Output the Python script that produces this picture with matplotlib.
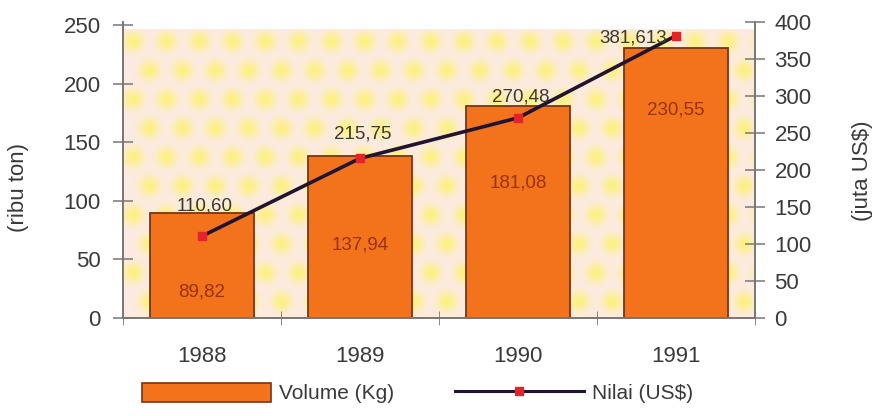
import numpy as np
from matplotlib import pyplot as plt
from matplotlib.patches import Patch
from matplotlib.lines import Line2D

years = ['1988', '1989', '1990', '1991']
volume = [89.82, 137.94, 181.08, 230.55]          # ribu ton
nilai = [110.60, 215.75, 270.48, 381.613]          # juta US$
volume_labels = ['89,82', '137,94', '181,08', '230,55']
nilai_labels = ['110,60', '215,75', '270,48', '381,613']

plt.rcParams['font.family'] = ['Liberation Sans', 'DejaVu Sans']
text_col = '#3a3a3a'
bar_col = '#f2731c'
bar_edge = '#7a3410'
line_col = '#22142e'
mark_col = '#e0262a'

fig = plt.figure(figsize=(8.78, 4.16), dpi=100)
ax = fig.add_axes([0.140, 0.2356, 0.720, 0.7115])
ax2 = ax.twinx()

# dotted pastel backdrop behind the bars
h, w = 290, 632
yy, xx = np.mgrid[0:h, 0:w]
img = np.ones((h, w, 3)) * np.array([0.99, 0.92, 0.90])
dots = np.zeros((h, w))
for r in range(11):
    cy = 12 + r * 29
    shift = 0 if r % 2 == 0 else 16
    for c in range(21):
        cx = 10 + shift + c * 33
        dots = np.maximum(dots, np.exp(-((xx - cx) ** 2 + (yy - cy) ** 2) / (2 * 7.0 ** 2)))
dots *= 0.8
yellow = np.array([0.99, 0.95, 0.40])
img = img * (1 - dots[..., None]) + yellow * dots[..., None]
ax.imshow(img, extent=(0, 1, 0, 0.975), transform=ax.transAxes,
          aspect='auto', zorder=0, interpolation='bilinear')

x = np.arange(len(years))
bars = ax.bar(x, volume, width=0.66, color=bar_col, edgecolor=bar_edge,
              linewidth=1.3, zorder=2)

label_drop = [-79, -89, -77, -62]
for xi, v, lab, d in zip(x, volume, volume_labels, label_drop):
    ax.annotate(lab, (xi, v), xytext=(0, d), textcoords='offset pixels',
                ha='center', va='center', fontsize=13.5, color='#9a3210', zorder=3)

ax2.plot(x, nilai, color=line_col, linewidth=2.6, marker='s', markersize=6,
         markerfacecolor=mark_col, markeredgecolor=mark_col, zorder=4)
label_lift = [30, 24, 21]
for xi, v, lab in zip(x, nilai, nilai_labels):
    if xi == 3:
        ax2.annotate(lab, (xi, v), xytext=(-9, -2), textcoords='offset pixels',
                     ha='right', va='center', fontsize=13.5, color='#3a3a2a', zorder=5)
    else:
        ax2.annotate(lab, (xi, v), xytext=(3, label_lift[xi]), textcoords='offset pixels',
                     ha='center', va='center', fontsize=13.5, color='#3a3a2a', zorder=5)

ax.set_xlim(-0.5, 3.5)
ax.set_ylim(0, 252.5)
ax2.set_ylim(0, 400)
ax.set_yticks(range(0, 251, 50))
ax2.set_yticks(range(0, 401, 50))
ax.set_xticks(x)
ax.set_xticklabels(years)
ax.set_xticks([-0.5, 0.5, 1.5, 2.5, 3.5], minor=True)

for a in (ax, ax2):
    a.spines['top'].set_visible(False)
    for s in ('left', 'right', 'bottom'):
        a.spines[s].set_color('#777777')
        a.spines[s].set_linewidth(1.2)
ax.set_zorder(1)
ax2.set_zorder(2)
ax2.patch.set_visible(False)
ax.patch.set_visible(False)

ax.tick_params(axis='x', which='major', length=0, pad=20, labelsize=16, labelcolor=text_col)
ax.tick_params(axis='x', which='minor', direction='inout', length=10, color='#777777')
ax.tick_params(axis='y', direction='inout', length=14, width=1.1, color='#777777',
               labelsize=16, labelcolor=text_col, pad=9)
ax2.tick_params(axis='y', direction='inout', length=14, width=1.1, color='#777777',
                labelsize=16, labelcolor=text_col, pad=7)

fig.text(0.021, 0.55, '(ribu ton)', rotation=90, ha='center', va='center',
         fontsize=16, color=text_col)
fig.text(0.982, 0.59, '(juta US$)', rotation=90, ha='center', va='center',
         fontsize=16, color=text_col)

handles = [Patch(facecolor=bar_col, edgecolor=bar_edge, linewidth=1.2),
           Line2D([0], [0], color=line_col, linewidth=2.2, marker='s', markersize=6,
                  markerfacecolor=mark_col, markeredgecolor=mark_col)]
fig.legend(handles, ['Volume (Kg)', 'Nilai (US$)'], loc='center',
           bbox_to_anchor=(0.4755, 0.055), ncol=2, frameon=False, fontsize=15,
           handlelength=6.2, handleheight=1.0, handletextpad=0.4,
           columnspacing=2.9, labelcolor=text_col, borderpad=0)

plt.savefig('out.png', dpi=100)
